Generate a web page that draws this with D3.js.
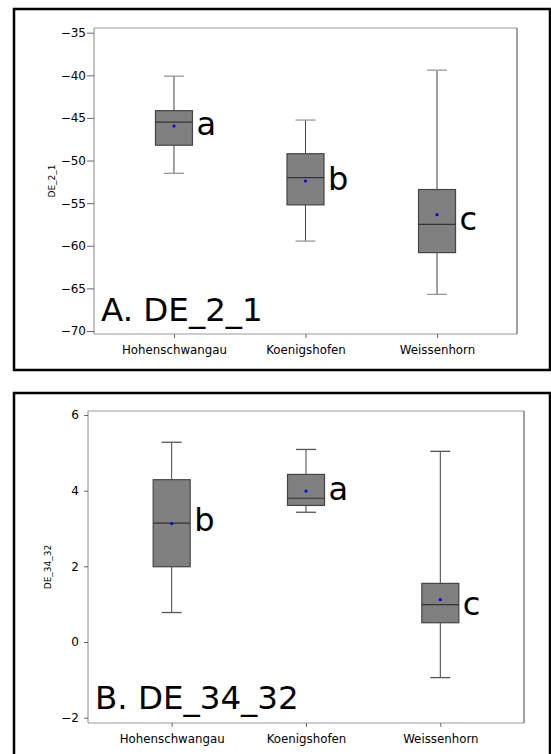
<!DOCTYPE html>
<html><head><meta charset="utf-8">
<script src="https://cdn.jsdelivr.net/npm/d3@7"></script>
<style>body{margin:0;background:#fff}svg{display:block}</style>
</head><body><svg id="c" width="551" height="754"></svg>
<script>
const sites = ["Hohenschwangau","Koenigshofen","Weissenhorn"];
// Panel A: DE_2_1
const aWhiskerLow = [-51.5,-59.45,-65.7];
const aQ1 = [-48.2,-55.2,-60.8];
const aMedian = [-45.5,-52.0,-57.5];
const aQ3 = [-44.15,-49.2,-53.4];
const aWhiskerHigh = [-40.1,-45.25,-39.4];
const aMean = [-45.95,-52.4,-56.35];
const aLetters = ["a","b","c"];
const aLetterY = [-47.0,-53.4,-58.1];
const aTicks = [-35,-40,-45,-50,-55,-60,-65,-70];
// Panel B: DE_34_32
const bWhiskerLow = [0.78,3.43,-0.94];
const bQ1 = [1.99,3.61,0.51];
const bMedian = [3.14,3.80,0.99];
const bQ3 = [4.29,4.43,1.55];
const bWhiskerHigh = [5.28,5.09,5.04];
const bMean = [3.13,3.99,1.12];
const bLetters = ["b","a","c"];
const bLetterY = [2.93,3.75,0.71];
const bTicks = [6,4,2,0,-2];

const svg = d3.select("#c");
const SANS = "DejaVu Sans, Verdana, sans-serif";

function panel(cfg){
  const g = svg.append("g");
  g.append("rect").attr("x",cfg.fx).attr("y",cfg.fy).attr("width",cfg.fw).attr("height",cfg.fh)
    .attr("fill","#fff").attr("stroke","#000").attr("stroke-width",2.5);
  const x = d3.scalePoint().domain(sites).range([cfg.l,cfg.r]).padding(cfg.pad);
  const y = d3.scaleLinear().domain(cfg.dom).range([cfg.b,cfg.t]);
  g.append("line").attr("x1",cfg.l).attr("x2",cfg.r).attr("y1",cfg.t).attr("y2",cfg.t).attr("stroke","#999");
  g.append("line").attr("x1",cfg.l).attr("x2",cfg.r).attr("y1",cfg.b).attr("y2",cfg.b).attr("stroke","#999");
  g.append("line").attr("x1",cfg.l).attr("x2",cfg.l).attr("y1",cfg.t).attr("y2",cfg.b).attr("stroke","#888");
  g.append("line").attr("x1",cfg.r).attr("x2",cfg.r).attr("y1",cfg.t).attr("y2",cfg.b).attr("stroke","#444");
  const ya = d3.axisLeft(y).tickValues(cfg.ticks).tickSize(cfg.tsz).tickPadding(cfg.tpad)
    .tickFormat(d=> d<0 ? "\u2212"+Math.abs(d) : String(d));
  const yg = g.append("g").attr("transform",`translate(${cfg.l},0)`).call(ya);
  yg.select(".domain").remove();
  yg.selectAll("line").attr("stroke","#666");
  yg.selectAll("text").attr("font-family",SANS).attr("font-size",12).attr("fill","#000");
  const xa = d3.axisBottom(x).tickSize(4).tickPadding(7.5);
  const xg = g.append("g").attr("transform",`translate(0,${cfg.b})`).call(xa);
  xg.select(".domain").remove();
  xg.selectAll("line").attr("stroke","#666");
  xg.selectAll("text").attr("font-family",SANS).attr("font-size",11.8).attr("fill","#000");
  g.append("text").attr("transform",`translate(${cfg.ytx},${(cfg.t+cfg.b)/2}) rotate(-90)`)
    .attr("text-anchor","middle").attr("font-family",SANS)
    .attr("font-size",9).text(cfg.ytitle);
  const bw = 37, cw = 20;
  sites.forEach((s,i)=>{
    const cx = x(s);
    g.append("line").attr("x1",cx).attr("x2",cx).attr("y1",y(cfg.wl[i])).attr("y2",y(cfg.q1[i])).attr("stroke","#444");
    g.append("line").attr("x1",cx).attr("x2",cx).attr("y1",y(cfg.q3[i])).attr("y2",y(cfg.wh[i])).attr("stroke","#444");
    g.append("line").attr("x1",cx-cw/2).attr("x2",cx+cw/2).attr("y1",y(cfg.wl[i])).attr("y2",y(cfg.wl[i])).attr("stroke",cfg.capColor).attr("stroke-width",1.3);
    g.append("line").attr("x1",cx-cw/2).attr("x2",cx+cw/2).attr("y1",y(cfg.wh[i])).attr("y2",y(cfg.wh[i])).attr("stroke",cfg.capColor).attr("stroke-width",1.3);
    g.append("rect").attr("x",cx-bw/2).attr("y",y(cfg.q3[i])).attr("width",bw).attr("height",y(cfg.q1[i])-y(cfg.q3[i]))
      .attr("fill","#808080").attr("stroke","#444").attr("stroke-width",1.2);
    g.append("line").attr("x1",cx-bw/2).attr("x2",cx+bw/2).attr("y1",y(cfg.med[i])).attr("y2",y(cfg.med[i])).attr("stroke","#333").attr("stroke-width",1.2);
    g.append("circle").attr("cx",cx).attr("cy",y(cfg.mean[i])).attr("r",1.6).attr("fill","#0000ee");
    g.append("text").attr("x",cx+bw/2+4).attr("y",y(cfg.ly[i]))
      .attr("font-family",SANS).attr("font-size",32).text(cfg.letters[i]);
  });
  g.append("text").attr("x",cfg.tx).attr("y",cfg.ty).attr("font-family",SANS)
    .attr("font-size",32.5).text(cfg.title);
}

panel({fx:14,fy:9,fw:536,fh:361,l:94,r:517,t:28,b:334,pad:0.608,dom:[-70.35,-34.45],ticks:aTicks,tsz:7,tpad:1,
  wl:aWhiskerLow,q1:aQ1,med:aMedian,q3:aQ3,wh:aWhiskerHigh,mean:aMean,letters:aLetters,ly:aLetterY,
  ytitle:"DE_2_1",ytx:55,title:"A. DE_2_1",tx:101,ty:320.7,capColor:"#999"});
panel({fx:14,fy:393,fw:536,fh:380,l:88,r:524,t:411,b:723,pad:0.623,dom:[-2.14,6.106],ticks:bTicks,tsz:4,tpad:5,
  wl:bWhiskerLow,q1:bQ1,med:bMedian,q3:bQ3,wh:bWhiskerHigh,mean:bMean,letters:bLetters,ly:bLetterY,
  ytitle:"DE_34_32",ytx:51,title:"B. DE_34_32",tx:95,ty:709,capColor:"#555"});
</script></body></html>
